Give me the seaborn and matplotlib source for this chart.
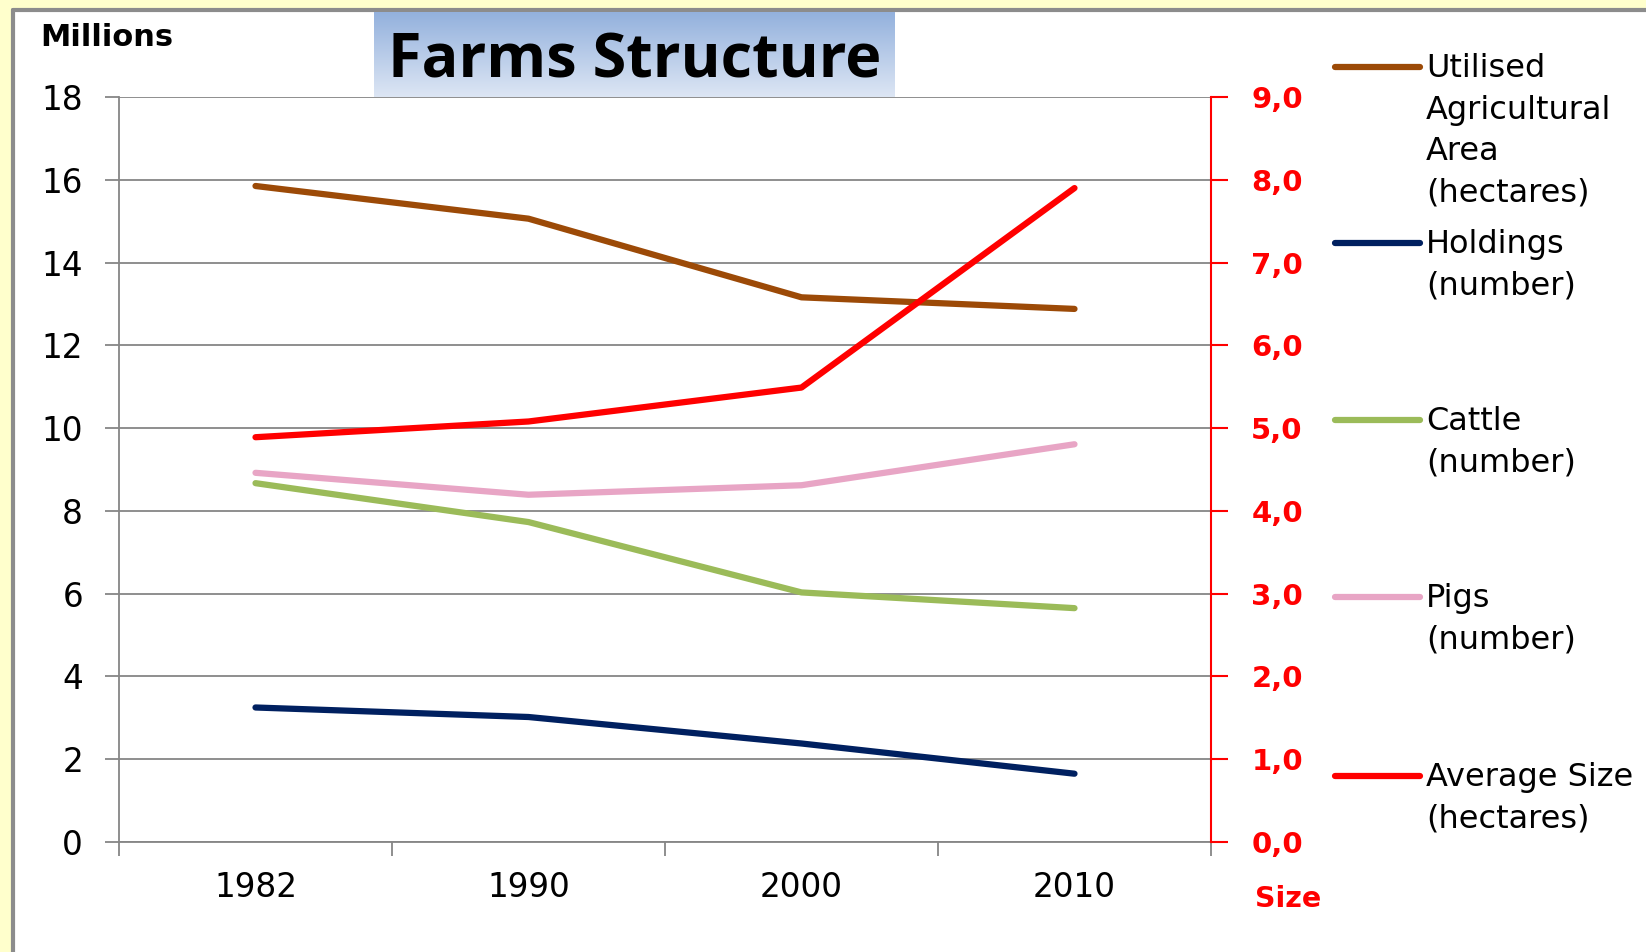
import numpy as np
import pandas as pd
import matplotlib
matplotlib.use("Agg")
import matplotlib.pyplot as plt
from matplotlib.lines import Line2D
from matplotlib.patches import Rectangle
from matplotlib.colors import LinearSegmentedColormap
import seaborn as sns

# ---- data (millions, except average size in hectares) ----
years = ["1982", "1990", "2000", "2010"]
uaa = [15.85, 15.06, 13.16, 12.88]
holdings = [3.25, 3.02, 2.38, 1.65]
cattle = [8.67, 7.73, 6.03, 5.65]
pigs = [8.92, 8.39, 8.62, 9.61]
avg_size = [4.89, 5.08, 5.49, 7.90]

series_names = ["Utilised\nAgricultural\nArea\n(hectares)", "Holdings\n(number)",
                "Cattle\n(number)", "Pigs\n(number)"]
size_name = "Average Size\n(hectares)"
left_ticks = list(range(0, 19, 2))
right_ticks = [v / 2 for v in left_ticks]

colors = ["#9C4A07", "#002060", "#9BBB59", "#E8A5C5"]
size_color = "#FF0000"

sns.set_theme(style="white")
plt.rcParams["font.family"] = ["DejaVu Sans"]

W, H = 1646, 952
fig = plt.figure(figsize=(W / 100, H / 100), dpi=100)
fig.patch.set_facecolor("#FFFFCC")


def fx(px):
    return px / W


def fy(py):
    return 1 - py / H


# white panel with grey left/top border, kept beneath the axes
fig.patches.append(Rectangle((fx(13), 0), 1, fy(10), transform=fig.transFigure,
                             facecolor="white", edgecolor="none", zorder=-5))
fig.lines.append(Line2D([fx(13), fx(13)], [0, fy(10)], transform=fig.transFigure,
                        color="#8C8C8C", lw=3, zorder=-4))
fig.lines.append(Line2D([fx(13), 1], [fy(10), fy(10)], transform=fig.transFigure,
                        color="#8C8C8C", lw=3, zorder=-4))

# long-form table for the left-axis series
rows = []
for name, vals in zip(series_names, [uaa, holdings, cattle, pigs]):
    for i, v in enumerate(vals):
        rows.append({"pos": i, "value": v, "series": name})
df = pd.DataFrame(rows)
df_size = pd.DataFrame({"pos": range(len(years)), "value": avg_size})

ax = fig.add_axes([fx(119), fy(842), fx(1211) - fx(119), fy(97) - fy(842)])
ax.set_facecolor("none")
sns.lineplot(data=df, x="pos", y="value", hue="series", hue_order=series_names,
             palette=colors, linewidth=4.5, ax=ax, legend=False, sort=False)
for ln in ax.lines:
    ln.set_solid_capstyle("round")
    ln.set_solid_joinstyle("round")

ax.set_xlim(-0.5, len(years) - 0.5)
ax.set_ylim(0, 18)
ax.set_yticks(left_ticks)
ax.set_yticklabels([str(t) for t in left_ticks])
ax.set_xticks(np.arange(-0.5, len(years), 1.0))
ax.set_xticklabels([])
ax.set_xticks(range(len(years)), minor=True)
ax.set_xticklabels(years, minor=True)
ax.grid(axis="y", color="#868686", linewidth=1.3)
ax.grid(axis="x", visible=False)
ax.set_axisbelow(True)
for s in ["top", "right"]:
    ax.spines[s].set_visible(False)
for s in ["left", "bottom"]:
    ax.spines[s].set_color("#868686")
    ax.spines[s].set_linewidth(1.3)
ax.tick_params(axis="y", which="major", direction="out", length=10, width=1.3,
               color="#868686", left=True, labelsize=23.5, pad=16, labelcolor="#000000")
ax.tick_params(axis="x", which="major", direction="out", length=10, width=1.3,
               color="#868686", bottom=True)
ax.tick_params(axis="x", which="minor", length=0, labelsize=23.5, pad=21,
               labelcolor="#000000")
ax.set_xlabel("")
ax.set_ylabel("")

# secondary axis for the average farm size
ax2 = ax.twinx()
sns.lineplot(data=df_size, x="pos", y="value", color=size_color, linewidth=4.5,
             ax=ax2, legend=False, sort=False)
ax2.lines[0].set_solid_capstyle("round")
ax2.set_ylim(0, 9)
ax2.set_yticks(right_ticks)
ax2.set_yticklabels([f"{t:.1f}".replace(".", ",") for t in right_ticks],
                    fontweight="bold")
ax2.tick_params(axis="y", direction="out", length=12, width=1.5, color=size_color,
                right=True, labelsize=21, pad=17, labelcolor=size_color)
for s in ["top", "left", "bottom"]:
    ax2.spines[s].set_visible(False)
ax2.spines["right"].set_color(size_color)
ax2.spines["right"].set_linewidth(1.5)
ax2.set_xlabel("")
ax2.set_ylabel("")
ax2.grid(False)

# axis captions
fig.text(fx(40), fy(37), "Millions", fontsize=22, fontweight="bold",
         ha="left", va="center", color="#000000")
fig.text(fx(1255), fy(899), "Size", fontsize=20.5, fontweight="bold",
         ha="left", va="center", color=size_color)

# title box with vertical gradient
tax = fig.add_axes([fx(374), fy(97), fx(895) - fx(374), fy(12) - fy(97)])
grad = LinearSegmentedColormap.from_list("g", ["#93B1DD", "#DDE6F4"])
tax.imshow(np.linspace(0, 1, 256).reshape(-1, 1), cmap=grad, aspect="auto",
           extent=[0, 1, 0, 1])
tax.set_axis_off()
tax.text(0.5, 0.41, "Farms Structure", transform=tax.transAxes, ha="center",
         va="center", fontsize=44, fontweight="bold", family="Open Sans",
         color="#000000")

# legend: handle aligned with first line of each label
legend_rows = [(series_names[0], colors[0], 67), (series_names[1], colors[1], 243),
               (series_names[2], colors[2], 420), (series_names[3], colors[3], 597),
               (size_name, size_color, 776)]
for label, col, yc in legend_rows:
    fig.lines.append(Line2D([fx(1335), fx(1420)], [fy(yc), fy(yc)],
                            transform=fig.transFigure, color=col, lw=4.5,
                            solid_capstyle="round"))
    fig.text(fx(1426), fy(yc - 14), label, fontsize=23, ha="left", va="top",
             linespacing=1.44, color="#000000")

fig.savefig("out.png", dpi=100, facecolor=fig.get_facecolor())
